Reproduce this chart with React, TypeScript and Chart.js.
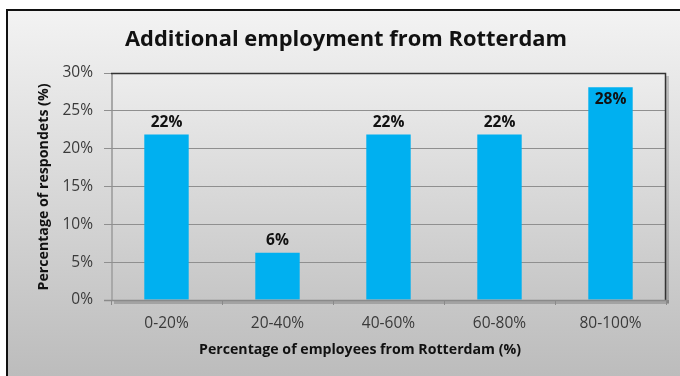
import React, { useEffect, useRef } from "react";
import { Chart, registerables } from "chart.js";

Chart.register(...registerables);

const categories = ["0-20%", "20-40%", "40-60%", "60-80%", "80-100%"];
const values = [21.875, 6.25, 21.875, 21.875, 28.125];
const valueLabels = ["22%", "6%", "22%", "22%", "28%"];
const chartTitle = "Additional employment from Rotterdam";
const xTitle = "Percentage of employees from Rotterdam (%)";
const yTitle = "Percentage of respondets (%)";

const FONT = "'Open Sans', Lato, 'Liberation Sans', sans-serif";

function fitText(ctx: any, text: string, font: string, width: number, x: number, y: number) {
  ctx.font = font;
  const w = ctx.measureText(text).width;
  ctx.save();
  ctx.translate(x, y);
  ctx.scale(width / w, 1);
  ctx.fillText(text, 0, 0);
  ctx.restore();
}

const decorPlugin = {
  id: "decor",
  beforeDraw(chart: any) {
    const { ctx, chartArea: a } = chart;
    ctx.save();
    const g = ctx.createLinearGradient(0, 9, 0, 376);
    g.addColorStop(0, "#f3f3f3");
    g.addColorStop(1, "#bcbcbc");
    ctx.fillStyle = g;
    ctx.fillRect(7, 10, 690, 380);
    ctx.strokeStyle = "#111";
    ctx.lineWidth = 2;
    ctx.strokeRect(7, 10, 690, 380);
    ctx.fillStyle = "rgba(0,0,0,0.18)";
    ctx.fillRect(a.left + 3, a.bottom, a.right - a.left, 4);
    ctx.fillRect(a.right, a.top + 3, 3, a.bottom - a.top);
    const pg = ctx.createLinearGradient(0, a.top, 0, a.bottom);
    pg.addColorStop(0, "#ededed");
    pg.addColorStop(1, "#c6c6c6");
    ctx.fillStyle = pg;
    ctx.fillRect(a.left, a.top, a.right - a.left, a.bottom - a.top);
    ctx.strokeStyle = "#a8a8a8";
    ctx.lineWidth = 2;
    ctx.beginPath();
    ctx.moveTo(a.left + 1, a.top);
    ctx.lineTo(a.left + 1, a.bottom);
    ctx.stroke();
    ctx.restore();
  },
  afterDatasetsDraw(chart: any) {
    const { ctx, chartArea: a } = chart;
    ctx.save();
    ctx.strokeStyle = "#333";
    ctx.lineWidth = 1.5;
    ctx.beginPath();
    ctx.moveTo(a.left, a.top + 0.5);
    ctx.lineTo(a.right - 0.5, a.top + 0.5);
    ctx.lineTo(a.right - 0.5, a.bottom);
    ctx.stroke();
    ctx.strokeStyle = "#8a8a8a";
    ctx.lineWidth = 1.5;
    ctx.beginPath();
    ctx.moveTo(a.left - 7, a.bottom + 0.5);
    ctx.lineTo(a.right, a.bottom + 0.5);
    ctx.stroke();
    const meta = chart.getDatasetMeta(0);
    ctx.fillStyle = "#111";
    ctx.font = `bold 15.5px ${FONT}`;
    ctx.textAlign = "center";
    ctx.textBaseline = "middle";
    meta.data.forEach((bar: any, i: number) => {
      const inside = i === 4;
      const y = inside ? bar.y + 12 : bar.y - 12;
      ctx.fillText(valueLabels[i], bar.x, y);
    });
    ctx.fillStyle = "#111";
    fitText(ctx, chartTitle, `bold 21px ${FONT}`, 442, 346, 40);
    fitText(ctx, xTitle, `bold 14.5px ${FONT}`, 322, 360, 350);
    ctx.translate(44, 187);
    ctx.rotate(-Math.PI / 2);
    fitText(ctx, yTitle, `bold 14.5px ${FONT}`, 207, 0, 0);
    ctx.restore();
  },
};

export default function App() {
  const ref = useRef<HTMLCanvasElement>(null);
  useEffect(() => {
    const chart = new Chart(ref.current!, {
      type: "bar",
      data: {
        labels: categories,
        datasets: [
          {
            data: values,
            backgroundColor: "#00b0f0",
            categoryPercentage: 1,
            barPercentage: 0.4,
          },
        ],
      },
      options: {
        animation: false,
        responsive: false,
        maintainAspectRatio: false,
        layout: { padding: { top: 73, right: 14, left: 0, bottom: 0 } },
        plugins: { legend: { display: false }, tooltip: { enabled: false } },
        scales: {
          x: {
            offset: true,
            grid: {
              offset: true,
              drawOnChartArea: false,
              drawTicks: true,
              tickLength: 5,
              color: "#8a8a8a",
            },
            border: { display: false },
            ticks: { color: "#3a3a3a", font: { family: FONT, size: 15.5 }, padding: 9 },
            afterFit: (s: any) => {
              s.height = 76;
            },
          },
          y: {
            min: 0,
            max: 30,
            ticks: {
              stepSize: 5,
              color: "#3a3a3a",
              font: { family: FONT, size: 15.5 },
              padding: 11,
              callback: (v: any) => v + "%",
            },
            grid: { color: "#8f8f8f", tickLength: 7, lineWidth: 1 },
            border: { display: false },
            afterFit: (s: any) => {
              s.width = 111;
            },
          },
        },
      },
      plugins: [decorPlugin],
    });
    return () => chart.destroy();
  }, []);
  return (
    <div style={{ position: "fixed", left: 0, top: 0, width: 680, height: 376 }}>
      <canvas ref={ref} width={680} height={376} style={{ width: 680, height: 376 }} />
    </div>
  );
}
